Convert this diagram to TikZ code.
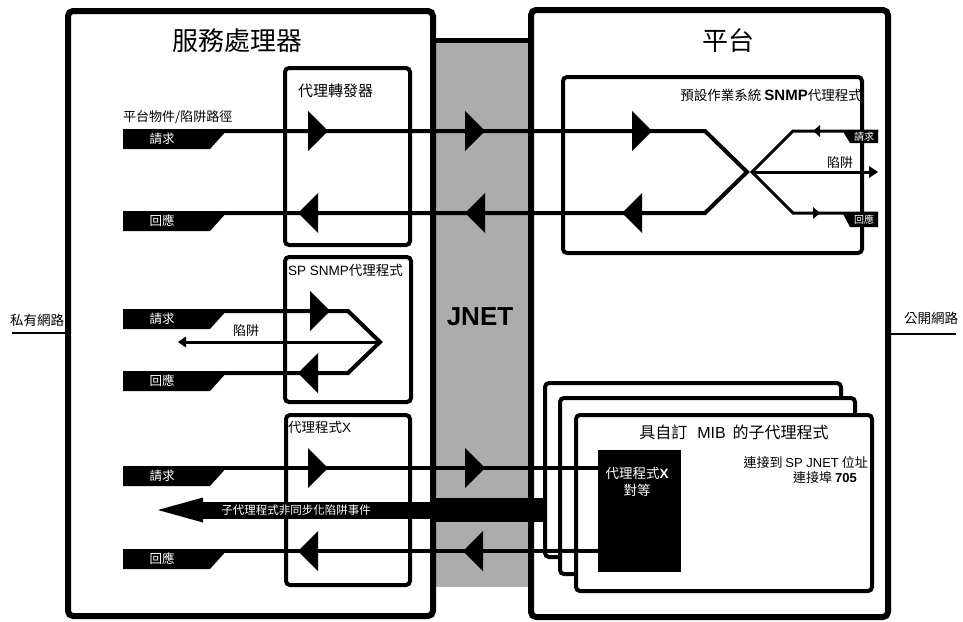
\documentclass[tikz,border=0pt]{standalone}
\usepackage{fontspec}
\setmainfont{Noto Sans CJK TC}
\newfontfamily\lat{Liberation Sans}
\begin{document}
\begin{tikzpicture}[x=1pt,y=-1pt,
  outerbox/.style={draw, line width=6pt, rounded corners=5pt},
  innerbox/.style={draw, line width=4pt, rounded corners=4pt},
  flow/.style={line width=4pt, line join=miter},
  thinflow/.style={line width=3pt, line join=miter},
  lbl/.style={inner sep=0pt, font=\fontsize{13}{15}\selectfont},
  taglbl/.style={inner sep=0pt, text=white, font=\fontsize{12.5}{14}\selectfont},
  smalltag/.style={inner sep=0pt, text=white, font=\fontsize{10}{12}\selectfont},
]
\newcommand\tagbox[3]{%
  \fill (123,#1) -- (228,#1) -- (210,#1+20) -- (123,#1+20) -- cycle;
  \node[taglbl] (#3) at (162,#1+10) {#2};}
\newcommand\triR[2]{\fill (#1,#2-20) -- (#1+20,#2) -- (#1,#2+20) -- cycle;}
\newcommand\triL[2]{\fill (#1,#2) -- (#1+20,#2-20) -- (#1+20,#2+20) -- cycle;}

\useasboundingbox (0,0) rectangle (963,621);
\fill[white] (0,0) rectangle (963,621);

% JNET band
\fill[gray!65] (433,40) rectangle (531,587);
\draw[line width=5pt] (433,40) -- (531,40);
\node[inner sep=0pt, font={\lat\bfseries\fontsize{26}{30}\selectfont}] (jnet) at (480,317) {JNET};

% outer boxes
\draw[outerbox] (68,11) rectangle (433,616);
\draw[outerbox] (531,10) rectangle (888,617);
\node[inner sep=0pt, font=\fontsize{26}{30}\selectfont] (sptitle) at (237,41) {服務處理器};
\node[inner sep=0pt, font=\fontsize{26}{30}\selectfont] (pftitle) at (728,41) {平台};

% network labels
\node[lbl, font=\fontsize{13.5}{15}\selectfont] (priv) at (37,320) {私有網路};
\coordinate (privL) at (12,333);
\coordinate (privR) at (66,333);
\draw[line width=2pt] (privL) -- (privR);
\node[lbl, font=\fontsize{13.5}{15}\selectfont] (pub) at (931,318) {公開網路};
\coordinate (pubL) at (889,334);
\coordinate (pubR) at (956,334);
\draw[line width=2pt] (pubL) -- (pubR);

% inner boxes (left)
\draw[innerbox] (285,68) rectangle (410,245);
\node[lbl, font=\fontsize{15}{17}\selectfont, anchor=west] (fwd) at (298,91) {代理轉發器};
\draw[innerbox] (285,257) rectangle (411,402);
\node[lbl, font=\fontsize{13.5}{15}\selectfont, anchor=west] (spsnmp) at (288,270) {{\lat SP SNMP}代理程式};
\draw[innerbox] (286,415) rectangle (410,585);
\node[lbl, font=\fontsize{13.5}{15}\selectfont, anchor=west] (agx) at (288,427) {代理程式{\lat X}};

% platform SNMP box
\draw[innerbox] (563,77) rectangle (862,253);
\node[lbl, font=\fontsize{13.5}{15}\selectfont, anchor=east] (ossnmp) at (862,95) {預設作業系統 {\lat\bfseries\fontsize{15}{17}\selectfont SNMP}代理程式};

% stacked subagent boxes
\draw[innerbox, fill=white] (545,383) rectangle (841,557);
\draw[innerbox, fill=white] (560,398) rectangle (855,574);
\draw[innerbox, fill=white] (576,415) rectangle (872,591);
\node[inner sep=0pt, font=\fontsize{16}{18}\selectfont] (subt) at (734,432) {具自訂\hspace{10pt}{\lat MIB}\hspace{7pt}的子代理程式};
\node[lbl, anchor=east] (conn1) at (868,463) {連接到 {\lat SP JNET} 位址};
\node[lbl, anchor=east] (conn2) at (857,478) {連接埠 {\lat\bfseries 705}};
\fill (598,450) rectangle (681,572);
\node[lbl, text=white, font=\fontsize{13.5}{15}\selectfont] (peer1) at (637,473) {代理程式{\lat\bfseries X}};
\node[lbl, text=white, font=\fontsize{13.5}{15}\selectfont] (peer2) at (637,490) {對等};

% label above first row
\node[lbl, anchor=west] (path) at (123,117) {平台物件/陷阱路徑};

% row A / B (forwarder to OS SNMP agent)
\coordinate (aL) at (150,131);
\coordinate (aR) at (705,131);
\coordinate (apex) at (747,172);
\coordinate (bR) at (705,213);
\coordinate (bL) at (150,213);
\draw[flow] (aL) -- (aR) -- (apex) -- (bR) -- (bL);
\tagbox{129}{請求}{tagA}
\tagbox{211}{回應}{tagB}
\triR{308}{131}\triR{465}{131}\triR{632}{131}
\triL{298}{213}\triL{465}{213}\triL{622}{213}

% right side of OS SNMP agent
\coordinate (rapex) at (752,172);
\coordinate (rqK) at (793,131);
\coordinate (rqE) at (878,131);
\coordinate (rsK) at (793,213);
\coordinate (rsE) at (878,213);
\coordinate (trE) at (870,172);
\draw[thinflow] (rqE) -- (rqK) -- (rapex) -- (rsK) -- (rsE);
\draw[thinflow] (rapex) -- (trE);
\fill (869,166) -- (878,172) -- (869,178) -- cycle;
\fill (813,131) -- (820,125) -- (820,137) -- cycle;
\fill (820,213) -- (813,207) -- (813,219) -- cycle;
\fill (842,130) -- (878,130) -- (878,143) -- (850,143) -- cycle;
\node[smalltag] (rtag1) at (864,137) {請求};
\fill (842,212) -- (878,212) -- (878,227) -- (850,227) -- cycle;
\node[smalltag] (rtag2) at (864,220) {回應};
\node[lbl] (rtrap) at (840,163) {陷阱};

% rows C / D (SP SNMP agent)
\coordinate (cL) at (150,311);
\coordinate (cR) at (348,311);
\coordinate (capex) at (380,342);
\coordinate (dR) at (348,373);
\coordinate (dL) at (150,373);
\coordinate (trapL) at (185,342);
\draw[flow] (cL) -- (cR) -- (capex) -- (dR) -- (dL);
\draw[thinflow] (capex) -- (trapL);
\fill (178,342) -- (186,336.5) -- (186,347.5) -- cycle;
\node[lbl] (ltrap) at (246,331) {陷阱};
\tagbox{309}{請求}{tagC}
\tagbox{371}{回應}{tagD}
\triR{310}{311}
\triL{298}{373}

% rows E / F (agent X)
\coordinate (eL) at (150,468);
\coordinate (eR) at (598,468);
\coordinate (fL) at (150,551);
\coordinate (fR) at (598,551);
\draw[flow] (eL) -- (eR);
\draw[flow] (fL) -- (fR);
\tagbox{466}{請求}{tagE}
\tagbox{549}{回應}{tagF}
\triR{308}{468}\triR{465}{468}
\triL{298}{551}\triL{463}{551}

% async trap big arrow
\fill (202,502) rectangle (434,519);
\fill (433,498) rectangle (546,522);
\fill (158,510) -- (203,497.5) -- (203,522.5) -- cycle;
\node[inner sep=0pt, text=white, font=\fontsize{11.5}{13}\selectfont] (async) at (296,510.5) {子代理程式非同步化陷阱事件};
\end{tikzpicture}
\end{document}
